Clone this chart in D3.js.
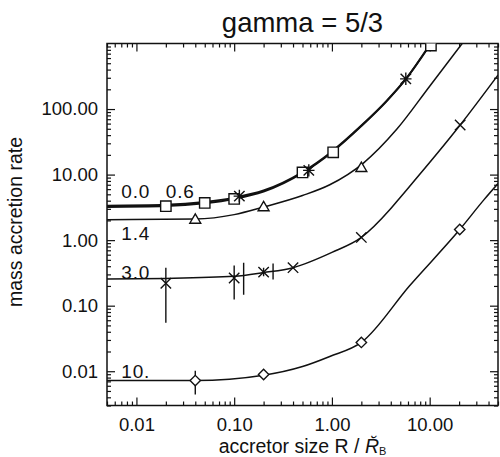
<!DOCTYPE html>
<html>
<head>
<meta charset="utf-8">
<script src="https://cdn.jsdelivr.net/npm/d3@7"></script>
<style>
  body { margin: 0; background: #fff; }
  text { font-family: "Liberation Sans", Arial, Helvetica, sans-serif; fill: #111; }
</style>
</head>
<body>
<svg id="chart" width="500" height="457"></svg>
<script>
// Axis ranges and labelled ticks
const radiusDomain = [0.005, 50];
const rateDomain = [0.003, 1000];
const radiusTicks = [0.01, 0.1, 1, 10];
const rateTicks = [0.01, 0.1, 1, 10, 100];
const curveNames = ["0.0", "0.6", "1.4", "3.0", "10."];

// Fitted accretion-rate curves: [R, rate]
const fit00 = [[0.005, 3.2], [0.02, 3.3], [0.05, 3.65], [0.1, 4.25], [0.2, 5.5], [0.5, 10.6], [1, 22], [2, 55], [3.6, 130], [5.7, 285], [10.3, 1000]];
const fit06 = [[0.005, 3.36], [0.02, 3.46], [0.05, 3.82], [0.1, 4.45], [0.2, 5.72], [0.5, 10.95], [1, 22.6], [2, 56], [3.6, 132], [5.7, 288], [10.2, 1000]];
const fit14 = [[0.005, 2.05], [0.04, 2.1], [0.1, 2.45], [0.2, 3.2], [0.5, 4.8], [0.95, 7.0], [2.1, 15], [4.6, 49], [10, 223], [21.5, 1000]];
const fit30 = [[0.005, 0.255], [0.02, 0.26], [0.1, 0.28], [0.2, 0.32], [0.4, 0.38], [1, 0.65], [2, 1.1], [3.9, 2.9], [4.75, 4.1], [20.5, 57], [50, 330]];
const fit10 = [[0.005, 0.0072], [0.04, 0.0072], [0.2, 0.0087], [0.5, 0.0118], [0.95, 0.0168], [2, 0.0275], [6.2, 0.2], [20.3, 1.45], [36, 4.15], [50, 7.3]];

// Simulation results: [R, rate] and error bars [R, low, high]
const squares00 = [[0.02, 3.3], [0.05, 3.7], [0.1, 4.25], [0.5, 10.8], [1.03, 21.9], [10.3, 930]];
const stars06 = [[0.113, 4.7], [0.58, 11.6], [5.7, 289]];
const triangles14 = [[0.04, 2.1], [0.2, 3.25], [2.0, 12.9]];
const crosses30 = [[0.02, 0.22], [0.1, 0.265], [0.2, 0.325], [0.4, 0.38], [2.0, 1.1], [20.5, 57]];
const errors30 = [[0.02, 0.055, 0.38], [0.1, 0.124, 0.41], [0.125, 0.147, 0.45], [0.2, 0.28, 0.38], [0.25, 0.25, 0.44]];
const diamonds10 = [[0.04, 0.0072], [0.2, 0.0089], [2.0, 0.0275], [20.3, 1.45]];
const errors10 = [[0.04, 0.0044, 0.0102], [0.2, 0.0076, 0.0104]];

const svg = d3.select("#chart");
const frameLeft = 107, frameRight = 498, frameTop = 43.5, frameBottom = 405.5;

const x = d3.scaleLog().domain(radiusDomain).range([frameLeft, frameRight]);
const y = d3.scaleLog().domain(rateDomain).range([frameBottom, frameTop]);

// minor ticks: 2..9 within each decade
function minorTicks(domain) {
  const out = [];
  for (let e = Math.floor(Math.log10(domain[0])); e <= Math.ceil(Math.log10(domain[1])); e++) {
    for (let k = 2; k <= 9; k++) {
      const v = k * Math.pow(10, e);
      if (v >= domain[0] * 0.999 && v <= domain[1] * 1.001) out.push(v);
    }
  }
  return out;
}
const xMinor = minorTicks(radiusDomain);
const yMinor = minorTicks(rateDomain);
const fmt = d3.format(".2f");
const tickFont = 18.5;

function styleAxis(g) {
  g.select(".domain").remove();
  g.selectAll(".tick line").attr("stroke", "#111").attr("stroke-width", 1.2);
  g.selectAll("text").attr("font-size", tickFont).attr("fill", "#111")
    .style("font-family", '"Liberation Sans", Arial, sans-serif');
}

// bottom
svg.append("g").attr("transform", `translate(0,${frameBottom})`)
  .call(d3.axisBottom(x).tickValues(radiusTicks).tickSize(-8).tickPadding(12.4).tickFormat(fmt)).call(styleAxis);
svg.append("g").attr("transform", `translate(0,${frameBottom})`)
  .call(d3.axisBottom(x).tickValues(xMinor).tickSize(-4).tickFormat("")).call(styleAxis);
// top
svg.append("g").attr("transform", `translate(0,${frameTop})`)
  .call(d3.axisTop(x).tickValues(radiusTicks).tickSize(-8).tickFormat("")).call(styleAxis);
svg.append("g").attr("transform", `translate(0,${frameTop})`)
  .call(d3.axisTop(x).tickValues(xMinor).tickSize(-4).tickFormat("")).call(styleAxis);
// left
svg.append("g").attr("transform", `translate(${frameLeft},0)`)
  .call(d3.axisLeft(y).tickValues(rateTicks).tickSize(-8).tickPadding(9).tickFormat(fmt)).call(styleAxis);
svg.append("g").attr("transform", `translate(${frameLeft},0)`)
  .call(d3.axisLeft(y).tickValues(yMinor).tickSize(-4).tickFormat("")).call(styleAxis);
// right
svg.append("g").attr("transform", `translate(${frameRight},0)`)
  .call(d3.axisRight(y).tickValues(rateTicks).tickSize(-8).tickFormat("")).call(styleAxis);
svg.append("g").attr("transform", `translate(${frameRight},0)`)
  .call(d3.axisRight(y).tickValues(yMinor).tickSize(-4).tickFormat("")).call(styleAxis);

// plot frame
svg.append("rect").attr("x", frameLeft).attr("y", frameTop)
  .attr("width", frameRight - frameLeft).attr("height", frameBottom - frameTop)
  .attr("fill", "none").attr("stroke", "#111").attr("stroke-width", 1.5);

svg.append("clipPath").attr("id", "plotArea").append("rect")
  .attr("x", frameLeft).attr("y", frameTop)
  .attr("width", frameRight - frameLeft).attr("height", frameBottom - frameTop);

const plot = svg.append("g").attr("clip-path", "url(#plotArea)");

const line = d3.line().x(d => x(d[0])).y(d => y(d[1])).curve(d3.curveMonotoneX);
[fit00, fit06, fit14, fit30, fit10].forEach((c, i) => {
  plot.append("path").attr("d", line(c)).attr("fill", "none")
    .attr("stroke", "#111").attr("stroke-width", i < 2 ? 1.9 : 1.5);
});

// error bars
[...errors30, ...errors10].forEach(d => {
  plot.append("line").attr("x1", x(d[0])).attr("x2", x(d[0]))
    .attr("y1", y(d[1])).attr("y2", y(d[2])).attr("stroke", "#111").attr("stroke-width", 1.4);
});

// marker shapes
const shapes = {
  square: s => `M${-s},${-s}H${s}V${s}H${-s}Z`,
  triangle: s => `M0,${-s * 1.0}L${s * 1.05},${s * 0.8}H${-s * 1.05}Z`,
  diamond: s => `M0,${-s}L${s},0L0,${s}L${-s},0Z`,
  cross: s => `M${-s},${-s}L${s},${s}M${-s},${s}L${s},${-s}`,
  star: s => `M${-s},${-s}L${s},${s}M${-s},${s}L${s},${-s}M0,${-s * 1.2}V${s * 1.2}M${-s * 1.1},0H${s * 1.1}`
};
function drawMarkers(data, shape, size) {
  plot.selectAll(null).data(data).enter().append("path")
    .attr("transform", d => `translate(${x(d[0])},${y(d[1])})`)
    .attr("d", shapes[shape](size))
    .attr("fill", shape === "cross" || shape === "star" ? "none" : "#fff")
    .attr("stroke", "#111").attr("stroke-width", 1.4);
}
drawMarkers(squares00, "square", 5.2);
drawMarkers(stars06, "star", 5.2);
drawMarkers(triangles14, "triangle", 5.2);
drawMarkers(crosses30, "cross", 5.2);
drawMarkers(diamonds10, "diamond", 5.2);

// curve labels, next to the flat part of each curve
const labelSpots = [
  [0.007, fit00[0][1], -9.5],
  [0.02, fit00[0][1], -9.5],
  [0.007, fit14[0][1], 20],
  [0.007, fit30[0][1], 0],
  [0.007, fit10[0][1], -2.6]
];
curveNames.forEach((name, i) => {
  const s = labelSpots[i];
  svg.append("text").attr("x", x(s[0])).attr("y", y(s[1]) + s[2])
    .attr("font-size", 19).attr("letter-spacing", 0.8).text(name);
});

// title
svg.append("text").attr("x", (frameLeft + frameRight) / 2).attr("y", 32)
  .attr("text-anchor", "middle").attr("font-size", 27.5).text("gamma = 5/3");

// y axis title
svg.append("text").attr("transform", `translate(22,222) rotate(-90)`)
  .attr("text-anchor", "middle").attr("font-size", 19.5).text("mass accretion rate");

// x axis title
const xt = svg.append("text").attr("x", (frameLeft + frameRight) / 2).attr("y", 453)
  .attr("text-anchor", "middle").attr("font-size", 19.5);
xt.append("tspan").text("accretor size R / ");
xt.append("tspan").attr("font-style", "italic").text("R\u0306");
xt.append("tspan").attr("font-size", 11).attr("dy", 1.5).text("B");
</script>
</body>
</html>
